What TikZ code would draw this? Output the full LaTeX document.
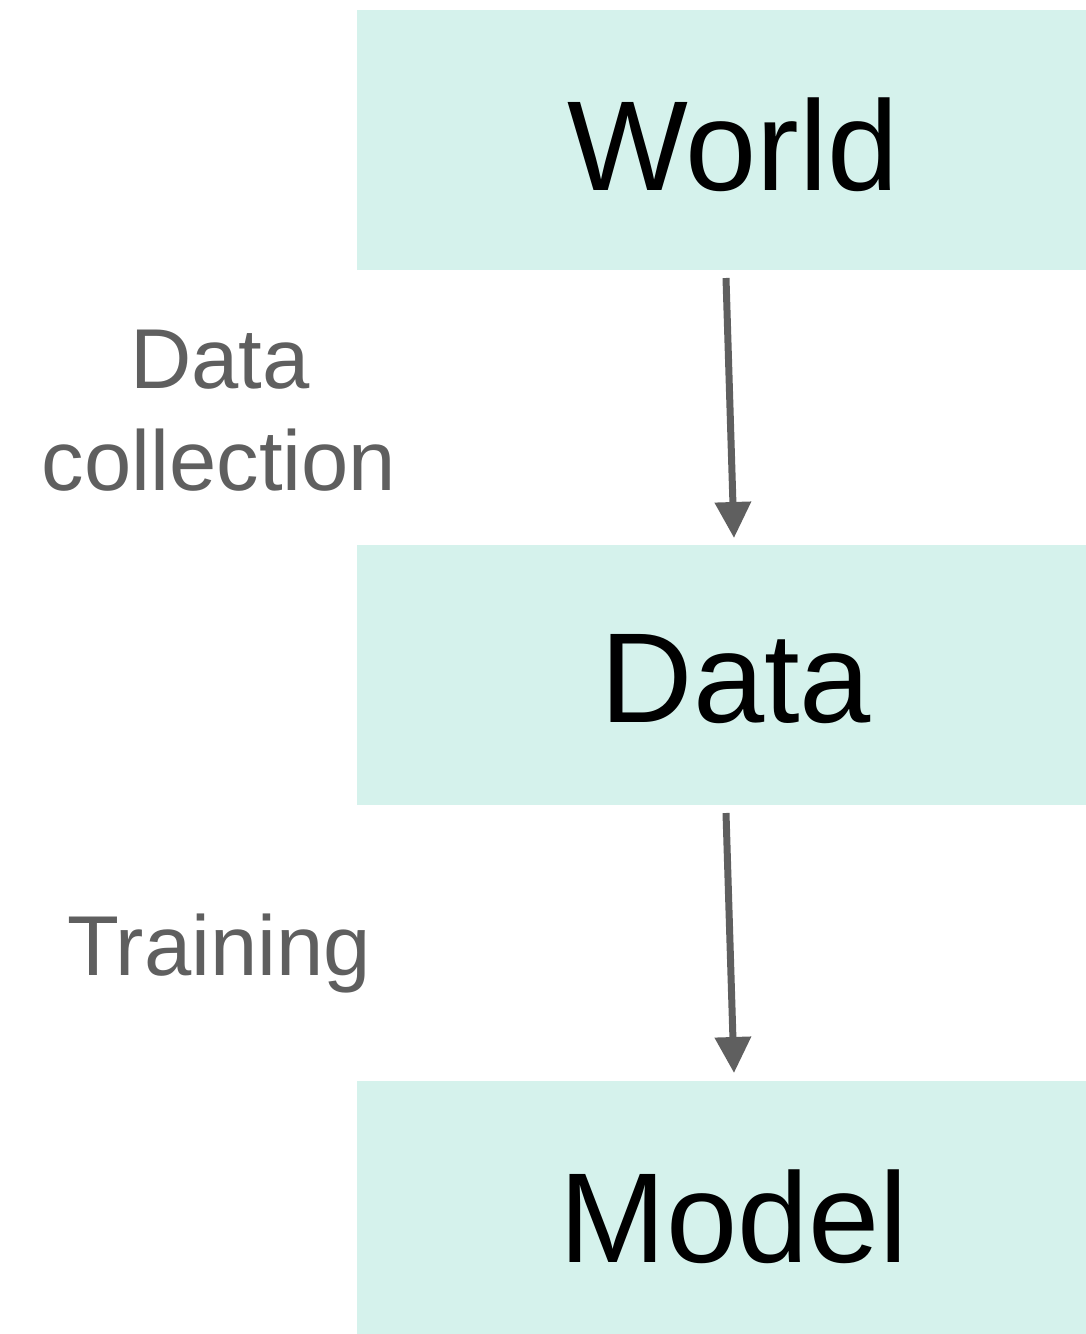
\documentclass[tikz,border=0pt]{standalone}
\usepackage{fontspec}
\setmainfont{Liberation Sans}
\usetikzlibrary{arrows.meta}
\definecolor{boxfill}{HTML}{D5F2EC}
\definecolor{arrowgrey}{HTML}{5F5F5F}
\tikzset{
  stagebox/.style={fill=boxfill, draw=none, minimum width=729pt, minimum height=260pt, inner sep=0pt, anchor=north west},
  bigtext/.style={font=\fontsize{128}{150}\selectfont, text=black},
  sidelabel/.style={font=\fontsize{85}{102}\selectfont, text=arrowgrey, align=center},
  flow/.style={draw=arrowgrey, line width=7pt, -{Triangle[length=36pt,width=35pt]}}
}
\begin{document}
\begin{tikzpicture}[x=1pt,y=-1pt]
\useasboundingbox (0,0) rectangle (1086,1334);
\node[stagebox] (world) at (357,10) {};
\node[stagebox] (data) at (357,545) {};
\node[stagebox, minimum height=253pt] (model) at (357,1081) {};
\node[bigtext, anchor=base] (worldt) at (733,190) {World};
\node[bigtext, anchor=base] (datat) at (736,722) {Data};
\node[bigtext, anchor=base] (modelt) at (734,1262) {Model};
\coordinate (a1s) at (726,278);
\coordinate (a1e) at (734,538);
\coordinate (a2s) at (726,813);
\coordinate (a2e) at (734,1073);
\draw[flow] (a1s) -- (a1e);
\draw[flow] (a2s) -- (a2e);
\node[sidelabel, anchor=base] (lab1) at (220,388) {Data};
\node[sidelabel, anchor=base] (lab1b) at (219,490) {collection};
\node[sidelabel, anchor=base] (lab2) at (219,975) {Training};
\end{tikzpicture}
\end{document}
